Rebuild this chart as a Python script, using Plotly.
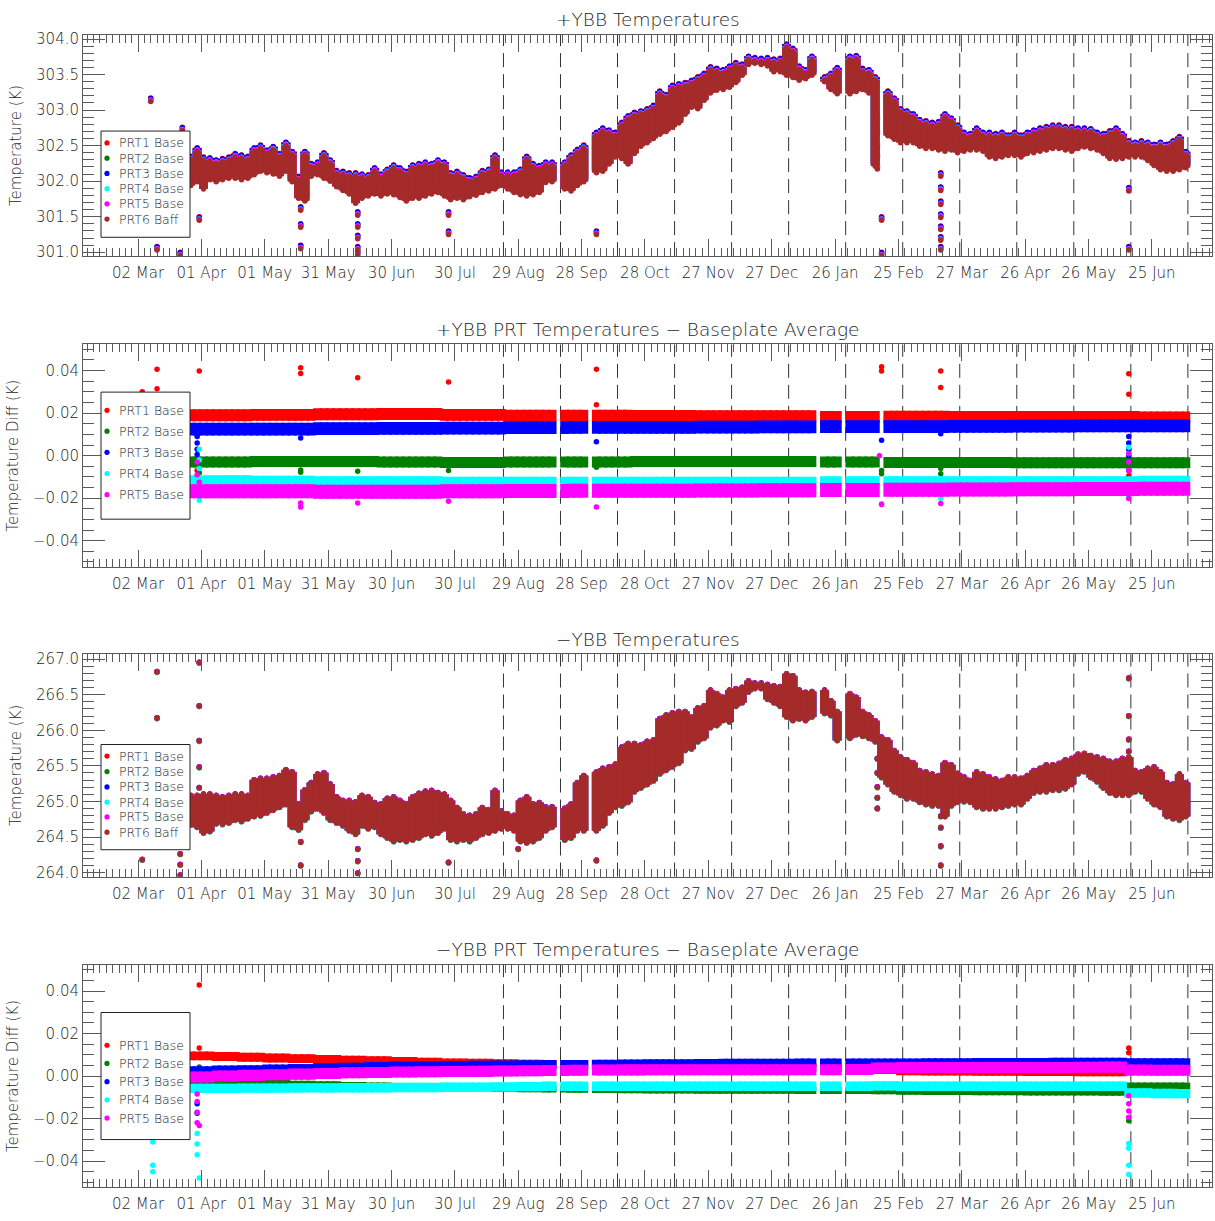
import pandas as pd
import plotly.graph_objects as go

# ---------------- data ----------------
# sampling grid of the dense telemetry (one envelope sample every 3 days)
sample_dates = pd.date_range("2020-03-27", "2021-07-11", freq="3D")  # 158 samples

series_names = ["PRT1 Base", "PRT2 Base", "PRT3 Base", "PRT4 Base", "PRT5 Base", "PRT6 Baff"]
series_colors = ["#ff0000", "#007f00", "#0000ff", "#00ffff", "#ff00ff", "#a52a2a"]

# +YBB baseplate average temperature envelope (K)
plus_lo = [
    301.97, 302.02, 301.92, 302.05, 302.02, 302.05, 302.07, 302.07, 302.05, 302.07,
    302.12, 302.17, 302.15, 302.13, 302.10, 302.17, 302.02, 301.79, 301.75, 302.10,
    302.12, 302.07, 302.03, 301.95, 301.90, 301.85, 301.72, 301.79, 301.82, 301.85,
    301.82, 301.85, 301.84, 301.80, 301.75, 301.79, 301.79, 301.82, 301.85, 301.87,
    301.82, 301.77, 301.79, 301.77, 301.81, 301.83, 301.87, 301.89, 301.92, 301.97,
    301.92, 301.87, 301.84, 301.82, 301.84, 301.87, 302.01, 302.02, None, 301.92,
    301.89, 301.97, 302.02, None, 302.15, 302.17, 302.27, 302.37, 302.35, 302.27,
    302.42, 302.52, 302.57, 302.63, 302.69, 302.73, 302.79, 302.85, 302.97, 303.07,
    303.05, 303.17, 303.27, 303.31, 303.32, 303.35, 303.42, 303.52, 303.67, 303.69,
    303.67, 303.65, 303.57, 303.57, 303.52, 303.49, 303.45, 303.47, 303.52, None,
    303.43, 303.32, 303.26, None, 303.26, 303.29, 303.32, 303.27, 302.24, None,
    302.67, 302.62, 302.57, 302.57, 302.57, 302.52, 302.49, 302.49, 302.47, 302.45,
    302.47, 302.43, 302.45, 302.47, 302.47, 302.45, 302.37, 302.35, 302.37, 302.39,
    302.39, 302.37, 302.42, 302.43, 302.45, 302.47, 302.49, 302.49, 302.47, 302.45,
    302.49, 302.51, 302.49, 302.47, 302.42, 302.35, 302.34, 302.35, 302.37, 302.37,
    302.37, 302.32, 302.25, 302.19, 302.17, 302.17, 302.19, 302.22,
]
plus_hi = [
    302.33, 302.45, 302.32, 302.31, 302.28, 302.30, 302.32, 302.37, 302.35, 302.33,
    302.45, 302.49, 302.42, 302.47, 302.37, 302.53, 302.40, 302.05, 302.40, 302.23,
    302.25, 302.38, 302.28, 302.13, 302.12, 302.10, 302.10, 302.08, 302.07, 302.17,
    302.08, 302.15, 302.21, 302.17, 302.12, 302.21, 302.23, 302.25, 302.23, 302.28,
    302.25, 302.10, 302.12, 302.07, 302.03, 302.05, 302.13, 302.15, 302.35, 302.11,
    302.11, 302.11, 302.15, 302.33, 302.23, 302.20, 302.25, 302.25, None, 302.25,
    302.35, 302.43, 302.49, None, 302.67, 302.73, 302.70, 302.67, 302.81, 302.90,
    302.95, 302.97, 303.00, 303.05, 303.25, 303.20, 303.33, 303.35, 303.37, 303.40,
    303.45, 303.50, 303.59, 303.57, 303.55, 303.60, 303.65, 303.63, 303.74, 303.72,
    303.71, 303.72, 303.70, 303.71, 303.91, 303.85, 303.60, 303.55, 303.74, None,
    303.45, 303.50, 303.58, None, 303.74, 303.75, 303.57, 303.55, 303.45, None,
    303.25, 303.15, 303.00, 302.97, 302.93, 302.85, 302.83, 302.81, 302.82, 302.93,
    302.87, 302.77, 302.67, 302.65, 302.73, 302.67, 302.67, 302.65, 302.67, 302.63,
    302.67, 302.63, 302.67, 302.70, 302.73, 302.75, 302.77, 302.77, 302.75, 302.75,
    302.73, 302.73, 302.72, 302.67, 302.65, 302.69, 302.73, 302.65, 302.55, 302.53,
    302.55, 302.53, 302.50, 302.53, 302.50, 302.55, 302.61, 302.40,
]
# offset of each PRT from the +YBB baseplate average (K)
plus_prt_offset = [0.019, -0.003, 0.013, -0.012, -0.016, -0.030]
plus_out_dates = [
    "2020-03-08", "2020-03-11", "2020-03-22", "2020-03-23", "2020-03-31",
    "2020-05-18", "2020-05-18", "2020-05-18",
    "2020-06-14", "2020-06-14", "2020-06-14", "2020-06-14", "2020-06-14",
    "2020-07-27", "2020-07-27", "2020-10-05",
    "2021-02-15", "2021-02-15", "2021-02-15", "2021-02-15", "2021-02-15",
    "2021-02-17", "2021-02-17",
    "2021-03-17", "2021-03-17", "2021-03-17", "2021-03-17", "2021-03-17", "2021-03-17", "2021-03-17",
    "2021-06-14", "2021-06-14",
]
plus_out_vals = [
    303.15, 301.06, 300.98, 302.74, 301.48,
    301.62, 301.38, 301.08,
    301.55, 301.38, 301.22, 301.06, 300.99,
    301.55, 301.28, 301.28,
    302.90, 302.70, 302.50, 302.35, 302.20,
    301.48, 300.98,
    302.10, 301.90, 301.70, 301.52, 301.35, 301.20, 301.06,
    301.89, 301.06,
]

# -YBB baseplate average temperature envelope (K)
minus_lo = [
    264.67, 264.64, 264.56, 264.58, 264.69, 264.68, 264.70, 264.74, 264.72, 264.76,
    264.79, 264.80, 264.84, 264.88, 264.92, 264.96, 264.64, 264.60, 264.74, 264.86,
    264.90, 264.84, 264.74, 264.70, 264.66, 264.59, 264.54, 264.66, 264.62, 264.64,
    264.54, 264.49, 264.44, 264.46, 264.44, 264.46, 264.49, 264.54, 264.52, 264.56,
    264.62, 264.46, 264.44, 264.46, 264.44, 264.49, 264.54, 264.56, 264.59, 264.62,
    264.62, 264.59, 264.44, 264.42, 264.44, 264.49, 264.59, 264.64, None, 264.46,
    264.49, 264.59, 264.59, None, 264.59, 264.66, 264.84, 264.92, 264.94, 264.99,
    265.14, 265.19, 265.24, 265.29, 265.39, 265.44, 265.49, 265.54, 265.72, 265.74,
    265.84, 265.89, 266.04, 266.07, 266.14, 266.12, 266.34, 266.39, 266.54, 266.59,
    266.59, 266.44, 266.39, 266.34, 266.19, 266.14, 266.16, 266.14, 266.19, None,
    266.24, 266.21, 265.86, None, 265.89, 265.94, 265.92, 265.89, 265.84, 265.34,
    265.24, 265.14, 265.09, 265.04, 265.04, 264.99, 264.96, 264.94, 264.94, 264.79,
    264.94, 264.99, 265.00, 264.99, 264.92, 264.90, 264.90, 264.90, 264.92, 264.94,
    264.96, 264.96, 265.04, 265.12, 265.14, 265.14, 265.16, 265.16, 265.18, 265.24,
    265.39, 265.42, 265.34, 265.28, 265.19, 265.12, 265.09, 265.09, 265.09, 265.14,
    265.14, 265.04, 264.96, 264.92, 264.79, 264.76, 264.74, 264.79,
]
minus_hi = [
    265.08, 265.08, 265.10, 265.10, 265.08, 265.06, 265.08, 265.10, 265.10, 265.08,
    265.30, 265.32, 265.32, 265.34, 265.36, 265.44, 265.41, 264.96, 265.16, 265.26,
    265.38, 265.40, 265.24, 265.06, 265.01, 265.01, 264.99, 265.08, 265.06, 264.98,
    264.96, 265.04, 265.06, 265.01, 264.96, 265.06, 265.11, 265.14, 265.15, 265.12,
    265.10, 265.01, 264.91, 264.82, 264.80, 264.82, 264.91, 264.88, 265.15, 264.86,
    264.82, 264.80, 265.01, 265.06, 264.96, 264.98, 264.92, 264.92, None, 264.90,
    264.96, 265.26, 265.36, None, 265.41, 265.46, 265.48, 265.52, 265.76, 265.81,
    265.81, 265.79, 265.84, 265.86, 266.16, 266.21, 266.24, 266.26, 266.26, 266.18,
    266.31, 266.34, 266.56, 266.51, 266.46, 266.56, 266.58, 266.60, 266.69, 266.66,
    266.66, 266.64, 266.62, 266.61, 266.79, 266.76, 266.56, 266.53, 266.54, None,
    266.56, 266.41, 266.26, None, 266.51, 266.46, 266.26, 266.21, 266.13, 265.90,
    265.86, 265.71, 265.62, 265.58, 265.54, 265.43, 265.41, 265.38, 265.36, 265.54,
    265.51, 265.39, 265.34, 265.29, 265.41, 265.38, 265.34, 265.31, 265.29, 265.34,
    265.34, 265.32, 265.36, 265.43, 265.46, 265.51, 265.51, 265.53, 265.58, 265.60,
    265.66, 265.67, 265.64, 265.62, 265.60, 265.56, 265.56, 265.60, 265.62, 265.43,
    265.41, 265.46, 265.48, 265.41, 265.26, 265.24, 265.38, 265.26,
]
minus_prt_offset = [0.006, -0.006, 0.005, -0.005, 0.003, -0.002]
minus_out_dates = [
    "2020-03-04", "2020-03-11", "2020-03-11", "2020-03-22", "2020-03-22", "2020-03-22",
    "2020-03-31", "2020-03-31", "2020-03-31", "2020-03-31", "2020-03-31",
    "2020-05-18", "2020-05-18", "2020-06-14", "2020-06-14", "2020-06-14",
    "2020-07-27", "2020-08-29", "2020-10-05",
    "2021-02-15", "2021-02-15", "2021-02-15", "2021-02-15", "2021-02-15",
    "2021-03-17", "2021-03-17", "2021-03-17", "2021-03-17",
    "2021-06-14", "2021-06-14", "2021-06-14", "2021-06-14",
]
minus_out_vals = [
    264.18, 266.82, 266.17, 264.26, 264.11, 263.96,
    266.95, 266.34, 265.85, 265.48, 265.19,
    264.43, 264.10, 264.33, 264.16, 263.99,
    264.14, 264.33, 264.17,
    265.60, 265.40, 265.20, 265.05, 264.90,
    264.79, 264.63, 264.37, 264.10,
    266.73, 266.20, 265.87, 265.70,
]

# +YBB PRT - baseplate average: band centre per 30-day block (10 samples), K
plus_diff_block = 10
plus_diff_prt1 = [0.0190, 0.0192, 0.0195, 0.0196, 0.0192, 0.0188, 0.0188, 0.0187,
                  0.0185, 0.0185, 0.0182, 0.0183, 0.0182, 0.0182, 0.0182, 0.0180]
plus_diff_prt2 = [-0.0030, -0.0028, -0.0028, -0.0030, -0.0032, -0.0030, -0.0030, -0.0028,
                  -0.0028, -0.0028, -0.0030, -0.0032, -0.0032, -0.0033, -0.0033, -0.0033]
plus_diff_prt3 = [0.0125, 0.0125, 0.0127, 0.0128, 0.0130, 0.0132, 0.0133, 0.0133,
                  0.0134, 0.0135, 0.0136, 0.0137, 0.0138, 0.0139, 0.0140, 0.0140]
plus_diff_prt4 = [-0.0115, -0.0118, -0.0120, -0.0120, -0.0122, -0.0122, -0.0122, -0.0122,
                  -0.0122, -0.0122, -0.0120, -0.0120, -0.0120, -0.0120, -0.0120, -0.0118]
plus_diff_prt5 = [-0.0168, -0.0168, -0.0170, -0.0170, -0.0168, -0.0166, -0.0165, -0.0165,
                  -0.0164, -0.0163, -0.0162, -0.0160, -0.0159, -0.0158, -0.0157, -0.0156]
plus_diff_halfwidth = [0.0028, 0.0026, 0.0030, 0.0023, 0.0033]
plus_diff_outliers = [
    ("PRT1 Base", "2020-03-04", 0.0300), ("PRT1 Base", "2020-03-11", 0.0406),
    ("PRT1 Base", "2020-03-11", 0.0315), ("PRT1 Base", "2020-03-31", 0.0398),
    ("PRT1 Base", "2020-03-30", -0.0070), ("PRT1 Base", "2020-05-18", 0.0413),
    ("PRT1 Base", "2020-05-18", 0.0387), ("PRT1 Base", "2020-06-14", 0.0366),
    ("PRT1 Base", "2020-07-27", 0.0346), ("PRT1 Base", "2020-10-05", 0.0406),
    ("PRT1 Base", "2020-10-05", 0.0239), ("PRT1 Base", "2021-02-17", 0.0418),
    ("PRT1 Base", "2021-02-17", 0.0398), ("PRT1 Base", "2021-03-17", 0.0398),
    ("PRT1 Base", "2021-03-17", 0.0320), ("PRT1 Base", "2021-06-14", 0.0385),
    ("PRT1 Base", "2021-06-14", 0.0289), ("PRT1 Base", "2021-06-14", -0.0070),
    ("PRT1 Base", "2021-06-14", -0.0095),
    ("PRT2 Base", "2020-03-31", -0.0080), ("PRT2 Base", "2020-05-18", -0.0068),
    ("PRT2 Base", "2020-05-18", -0.0078), ("PRT2 Base", "2020-06-14", -0.0073),
    ("PRT2 Base", "2020-07-27", -0.0070), ("PRT2 Base", "2020-10-05", -0.0055),
    ("PRT2 Base", "2021-02-17", -0.0070), ("PRT2 Base", "2021-02-17", -0.0085),
    ("PRT2 Base", "2021-03-17", -0.0061), ("PRT2 Base", "2021-03-17", -0.0085),
    ("PRT3 Base", "2020-03-30", 0.0090), ("PRT3 Base", "2020-03-30", 0.0060),
    ("PRT3 Base", "2020-03-30", 0.0030), ("PRT3 Base", "2020-03-30", 0.0005),
    ("PRT3 Base", "2020-05-18", 0.0083), ("PRT3 Base", "2020-10-05", 0.0065),
    ("PRT3 Base", "2021-02-17", 0.0073), ("PRT3 Base", "2021-03-17", 0.0103),
    ("PRT3 Base", "2021-06-14", 0.0090), ("PRT3 Base", "2021-06-14", 0.0060),
    ("PRT3 Base", "2021-06-14", 0.0030), ("PRT3 Base", "2021-06-14", 0.0000),
    ("PRT4 Base", "2020-03-31", 0.0030), ("PRT4 Base", "2020-03-31", -0.0020),
    ("PRT4 Base", "2020-03-31", -0.0060), ("PRT4 Base", "2020-03-31", -0.0210),
    ("PRT4 Base", "2020-07-27", -0.0190), ("PRT4 Base", "2021-02-17", -0.0225),
    ("PRT4 Base", "2021-03-17", -0.0200), ("PRT4 Base", "2021-06-14", 0.0040),
    ("PRT4 Base", "2021-06-14", 0.0010), ("PRT4 Base", "2021-06-14", -0.0190),
    ("PRT5 Base", "2020-03-30", -0.0030), ("PRT5 Base", "2020-03-30", -0.0090),
    ("PRT5 Base", "2020-03-31", -0.0125), ("PRT5 Base", "2020-05-18", -0.0223),
    ("PRT5 Base", "2020-05-18", -0.0242), ("PRT5 Base", "2020-06-14", -0.0223),
    ("PRT5 Base", "2020-07-27", -0.0215), ("PRT5 Base", "2020-10-05", -0.0242),
    ("PRT5 Base", "2021-02-16", 0.0000), ("PRT5 Base", "2021-02-17", -0.0230),
    ("PRT5 Base", "2021-03-17", -0.0225), ("PRT5 Base", "2021-06-14", 0.0010),
    ("PRT5 Base", "2021-06-14", -0.0030), ("PRT5 Base", "2021-06-14", -0.0070),
    ("PRT5 Base", "2021-06-14", -0.0202),
]

# -YBB PRT - baseplate average: band centre per 12-day block (4 samples), K
minus_diff_block = 4
minus_diff_prt1 = [
    0.0095, 0.0092, 0.0088, 0.0085, 0.0082, 0.0078, 0.0075, 0.0072, 0.0068, 0.0065,
    0.0062, 0.0060, 0.0058, 0.0056, 0.0055, 0.0053, 0.0050, 0.0048, 0.0046, 0.0045,
    0.0044, 0.0043, 0.0042, 0.0042, 0.0041, 0.0040, 0.0040, 0.0030, 0.0025, 0.0024,
    0.0023, 0.0022, 0.0022, 0.0021, 0.0021, 0.0020, 0.0020, 0.0025, 0.0028, 0.0028]
minus_diff_prt2 = [
    -0.0028, -0.0030, -0.0032, -0.0035, -0.0038, -0.0041, -0.0044, -0.0047, -0.0050, -0.0052,
    -0.0054, -0.0056, -0.0058, -0.0060, -0.0062, -0.0063, -0.0064, -0.0065, -0.0066, -0.0066,
    -0.0067, -0.0067, -0.0067, -0.0067, -0.0068, -0.0068, -0.0068, -0.0070, -0.0072, -0.0073,
    -0.0073, -0.0074, -0.0074, -0.0075, -0.0075, -0.0076, -0.0077, -0.0047, -0.0046, -0.0046]
minus_diff_prt3 = [
    0.0025, 0.0028, 0.0030, 0.0033, 0.0036, 0.0039, 0.0042, 0.0045, 0.0047, 0.0049,
    0.0050, 0.0051, 0.0052, 0.0053, 0.0054, 0.0055, 0.0056, 0.0057, 0.0058, 0.0058,
    0.0059, 0.0060, 0.0060, 0.0060, 0.0061, 0.0061, 0.0061, 0.0062, 0.0062, 0.0063,
    0.0063, 0.0064, 0.0064, 0.0064, 0.0065, 0.0065, 0.0065, 0.0063, 0.0063, 0.0063]
minus_diff_prt4 = [
    -0.0058, -0.0058, -0.0057, -0.0057, -0.0056, -0.0056, -0.0055, -0.0055, -0.0054, -0.0054,
    -0.0053, -0.0052, -0.0051, -0.0050, -0.0048, -0.0048, -0.0048, -0.0048, -0.0048, -0.0048,
    -0.0048, -0.0048, -0.0048, -0.0048, -0.0048, -0.0048, -0.0048, -0.0046, -0.0048, -0.0048,
    -0.0048, -0.0048, -0.0048, -0.0048, -0.0048, -0.0048, -0.0048, -0.0080, -0.0082, -0.0083]
minus_diff_prt5 = [
    -0.0005, 0.0000, 0.0003, 0.0006, 0.0009, 0.0012, 0.0015, 0.0017, 0.0019, 0.0020,
    0.0021, 0.0022, 0.0024, 0.0025, 0.0026, 0.0027, 0.0028, 0.0029, 0.0030, 0.0030,
    0.0030, 0.0030, 0.0030, 0.0030, 0.0030, 0.0030, 0.0031, 0.0038, 0.0040, 0.0040,
    0.0040, 0.0040, 0.0040, 0.0040, 0.0040, 0.0041, 0.0042, 0.0028, 0.0027, 0.0027]
minus_diff_halfwidth = [0.0021, 0.0016, 0.0021, 0.0022, 0.0026]
minus_diff_outliers = [
    ("PRT1 Base", "2020-03-31", 0.0428), ("PRT1 Base", "2020-03-31", 0.0132),
    ("PRT1 Base", "2021-06-14", 0.0132), ("PRT1 Base", "2021-06-14", 0.0110),
    ("PRT2 Base", "2020-03-31", 0.0042), ("PRT2 Base", "2021-06-14", -0.0210),
    ("PRT3 Base", "2020-03-30", -0.0130), ("PRT3 Base", "2020-03-30", -0.0175),
    ("PRT3 Base", "2021-06-14", -0.0090),
    ("PRT4 Base", "2020-03-09", -0.0310), ("PRT4 Base", "2020-03-09", -0.0420),
    ("PRT4 Base", "2020-03-09", -0.0450), ("PRT4 Base", "2020-03-30", -0.0170),
    ("PRT4 Base", "2020-03-30", -0.0270), ("PRT4 Base", "2020-03-30", -0.0320),
    ("PRT4 Base", "2020-03-30", -0.0370), ("PRT4 Base", "2020-03-31", -0.0480),
    ("PRT4 Base", "2021-06-14", -0.0317), ("PRT4 Base", "2021-06-14", -0.0340),
    ("PRT4 Base", "2021-06-14", -0.0420), ("PRT4 Base", "2021-06-14", -0.0463),
    ("PRT5 Base", "2020-03-30", -0.0084), ("PRT5 Base", "2020-03-30", -0.0120),
    ("PRT5 Base", "2020-03-30", -0.0170), ("PRT5 Base", "2020-03-30", -0.0220),
    ("PRT5 Base", "2020-03-31", -0.0233), ("PRT5 Base", "2021-06-14", -0.0093),
    ("PRT5 Base", "2021-06-14", -0.0130), ("PRT5 Base", "2021-06-14", -0.0165),
    ("PRT5 Base", "2021-06-14", -0.0194),
]

# 27-day rotation markers (dashed lines)
rotation_dates = ["2020-08-22", "2020-09-18", "2020-10-15", "2020-11-11", "2020-12-08",
                  "2021-01-04", "2021-01-31", "2021-02-27", "2021-03-26", "2021-04-22",
                  "2021-05-19", "2021-06-15", "2021-07-12"]

panel_titles = ["+YBB Temperatures", "+YBB PRT Temperatures \u2212 Baseplate Average",
                "\u2212YBB Temperatures", "\u2212YBB PRT Temperatures \u2212 Baseplate Average"]
panel_ytitles = ["Temperature (K)", "Temperature Diff (K)", "Temperature (K)", "Temperature Diff (K)"]

# ---------------- style ----------------
FONT = "DejaVu Sans"
FW = 300
TXT = "#1e1e1e"
AX = "#5a5a5a"
W, H = 1215, 1221
ML, MR = 83, 3
PW = W - ML - MR
LINE_W = 9
MARK = 5.5

# panel plot areas in pixels (top, bottom)
panel_px = [(31, 254), (343, 567), (655, 879), (968, 1192)]
yranges = [[300.945, 304.06], [-0.0523, 0.0523], [263.945, 267.07], [-0.0523, 0.0523]]
ydticks = [0.5, 0.02, 0.5, 0.02]
yminor = [0.1, 0.005, 0.1, 0.005]
yfmt = [".1f", ".2f", ".1f", ".2f"]
title_px = [16, 328, 640, 953]
legend_box_px = [(128, 235), (391, 519), (746, 852), (1016, 1144)]
legend_rows_px = [[140, 155.3, 170.7, 186, 201.3, 216.7],
                  [409.3, 430.3, 451.7, 473, 494.3],
                  [757.7, 773.3, 788.7, 804, 819, 834.3],
                  [1049, 1067.3, 1085.7, 1104, 1122.3]]


def py(y):
    return 1 - y / H


def px(x):
    return (x - ML) / PW


def segments(dates, lo, hi, off):
    xs, ys = [], []
    for d, a, b in zip(dates, lo, hi):
        if a is None or b is None:
            continue
        xs += [d, d, None]
        ys += [a + off, b + off, None]
    return xs, ys


def block_band(centres, hw, block, mask):
    lo, hi = [], []
    for k, m in enumerate(mask):
        if m is None:
            lo.append(None)
            hi.append(None)
        else:
            c = centres[k // block]
            lo.append(c - hw)
            hi.append(c + hw)
    return lo, hi


fig = go.Figure()


def add_band(axis_n, name, color, xs, ys, ox, oy, with_markers):
    xa = "x" if axis_n == 1 else "x%d" % axis_n
    ya = "y" if axis_n == 1 else "y%d" % axis_n
    fig.add_trace(go.Scatter(
        x=xs, y=ys, mode="lines+markers" if with_markers else "lines",
        name=name, xaxis=xa, yaxis=ya,
        line=dict(color=color, width=LINE_W, simplify=False), marker=dict(color=color, size=MARK),
        connectgaps=False, showlegend=False, hoverinfo="skip"))
    if ox:
        fig.add_trace(go.Scatter(
            x=ox, y=oy, mode="markers", name=name, xaxis=xa, yaxis=ya,
            marker=dict(color=color, size=MARK), showlegend=False, hoverinfo="skip"))


# panel 1 and 3: absolute temperatures
for axis_n, lo, hi, offs, od, ov in [(1, plus_lo, plus_hi, plus_prt_offset, plus_out_dates, plus_out_vals),
                                     (3, minus_lo, minus_hi, minus_prt_offset, minus_out_dates, minus_out_vals)]:
    for name, color, off in zip(series_names, series_colors, offs):
        xs, ys = segments(sample_dates, lo, hi, off)
        add_band(axis_n, name, color, xs, ys, od, [v + off for v in ov], True)

# panel 2 and 4: differences from baseplate average
for axis_n, centres_all, hws, block, mask, outl in [
        (2, [plus_diff_prt1, plus_diff_prt2, plus_diff_prt3, plus_diff_prt4, plus_diff_prt5],
         plus_diff_halfwidth, plus_diff_block, plus_lo, plus_diff_outliers),
        (4, [minus_diff_prt1, minus_diff_prt2, minus_diff_prt3, minus_diff_prt4, minus_diff_prt5],
         minus_diff_halfwidth, minus_diff_block, minus_lo, minus_diff_outliers)]:
    for name, color, centres, hw in zip(series_names[:5], series_colors[:5], centres_all, hws):
        lo, hi = block_band(centres, hw, block, mask)
        xs, ys = segments(sample_dates, lo, hi, 0.0)
        od = [d for n, d, v in outl if n == name]
        ov = [v for n, d, v in outl if n == name]
        add_band(axis_n, name, color, xs, ys, od, ov, False)


def fnt(size):
    return dict(family=FONT, size=size, color=TXT, weight=FW)


layout = dict(
    width=W, height=H, margin=dict(l=ML, r=MR, t=0, b=0),
    paper_bgcolor="white", plot_bgcolor="white",
    font=fnt(15),
    showlegend=False,
)

DAY = 86400000
shapes, annotations = [], []
for i in range(4):
    n = i + 1
    xk = "xaxis" if n == 1 else "xaxis%d" % n
    yk = "yaxis" if n == 1 else "yaxis%d" % n
    top, bot = panel_px[i]
    layout[xk] = dict(
        type="date", domain=[0, 1], anchor="y" if n == 1 else "y%d" % n,
        range=["2020-02-04 23:00", "2021-07-23 10:00"],
        tick0="2020-03-02", dtick=30 * DAY, tickformat="%d %b",
        ticks="inside", ticklen=17, tickwidth=1, tickcolor=AX,
        minor=dict(tick0="2020-03-02", dtick=3 * DAY, ticks="inside", ticklen=8,
                   tickwidth=1, tickcolor=AX, showgrid=False),
        showline=True, linecolor=AX, linewidth=1, mirror="ticks",
        showgrid=False, zeroline=False, ticklabelstandoff=3,
        tickfont=fnt(15),
    )
    layout[yk] = dict(
        domain=[py(bot), py(top)], anchor="x" if n == 1 else "x%d" % n,
        range=yranges[i], tick0=0, dtick=ydticks[i], tickformat=yfmt[i],
        ticks="inside", ticklen=22, tickwidth=1, tickcolor=AX,
        minor=dict(dtick=yminor[i], ticks="inside", ticklen=11, tickwidth=1,
                   tickcolor=AX, showgrid=False),
        showline=True, linecolor=AX, linewidth=1, mirror="ticks",
        showgrid=False, zeroline=False,
        tickfont=fnt(15),
        title=dict(text=panel_ytitles[i], standoff=10, font=fnt(15)),
    )
    # dashed rotation lines
    for d in rotation_dates:
        shapes.append(dict(type="line", xref="x" if n == 1 else "x%d" % n,
                           yref=("y" if n == 1 else "y%d" % n) + " domain",
                           x0=d, x1=d, y0=0, y1=1, layer="below",
                           line=dict(color="#333333", width=1, dash="14px,7px")))
    # panel title
    annotations.append(dict(text=panel_titles[i], xref="paper", yref="paper",
                            x=0.5, y=py(title_px[i]), xanchor="center", yanchor="middle",
                            showarrow=False, font=fnt(18.5)))
    # legend box
    b0, b1 = legend_box_px[i]
    shapes.append(dict(type="rect", xref="paper", yref="paper", layer="above",
                       x0=px(101), x1=px(190), y0=py(b1), y1=py(b0),
                       fillcolor="white", line=dict(color="#222222", width=1)))
    nrows = len(legend_rows_px[i])
    for j in range(nrows):
        yy = py(legend_rows_px[i][j])
        shapes.append(dict(type="circle", xref="paper", yref="paper", layer="above",
                           xsizemode="pixel", ysizemode="pixel",
                           xanchor=px(107), yanchor=yy, x0=-2.6, x1=2.6, y0=-2.6, y1=2.6,
                           fillcolor=series_colors[j], line=dict(width=0)))
        annotations.append(dict(text=series_names[j], xref="paper", yref="paper",
                                x=px(117), y=yy, xanchor="left", yanchor="middle",
                                showarrow=False, font=fnt(12.5)))

layout["shapes"] = shapes
layout["annotations"] = annotations
fig.update_layout(**layout)

fig.write_html("out.html")
